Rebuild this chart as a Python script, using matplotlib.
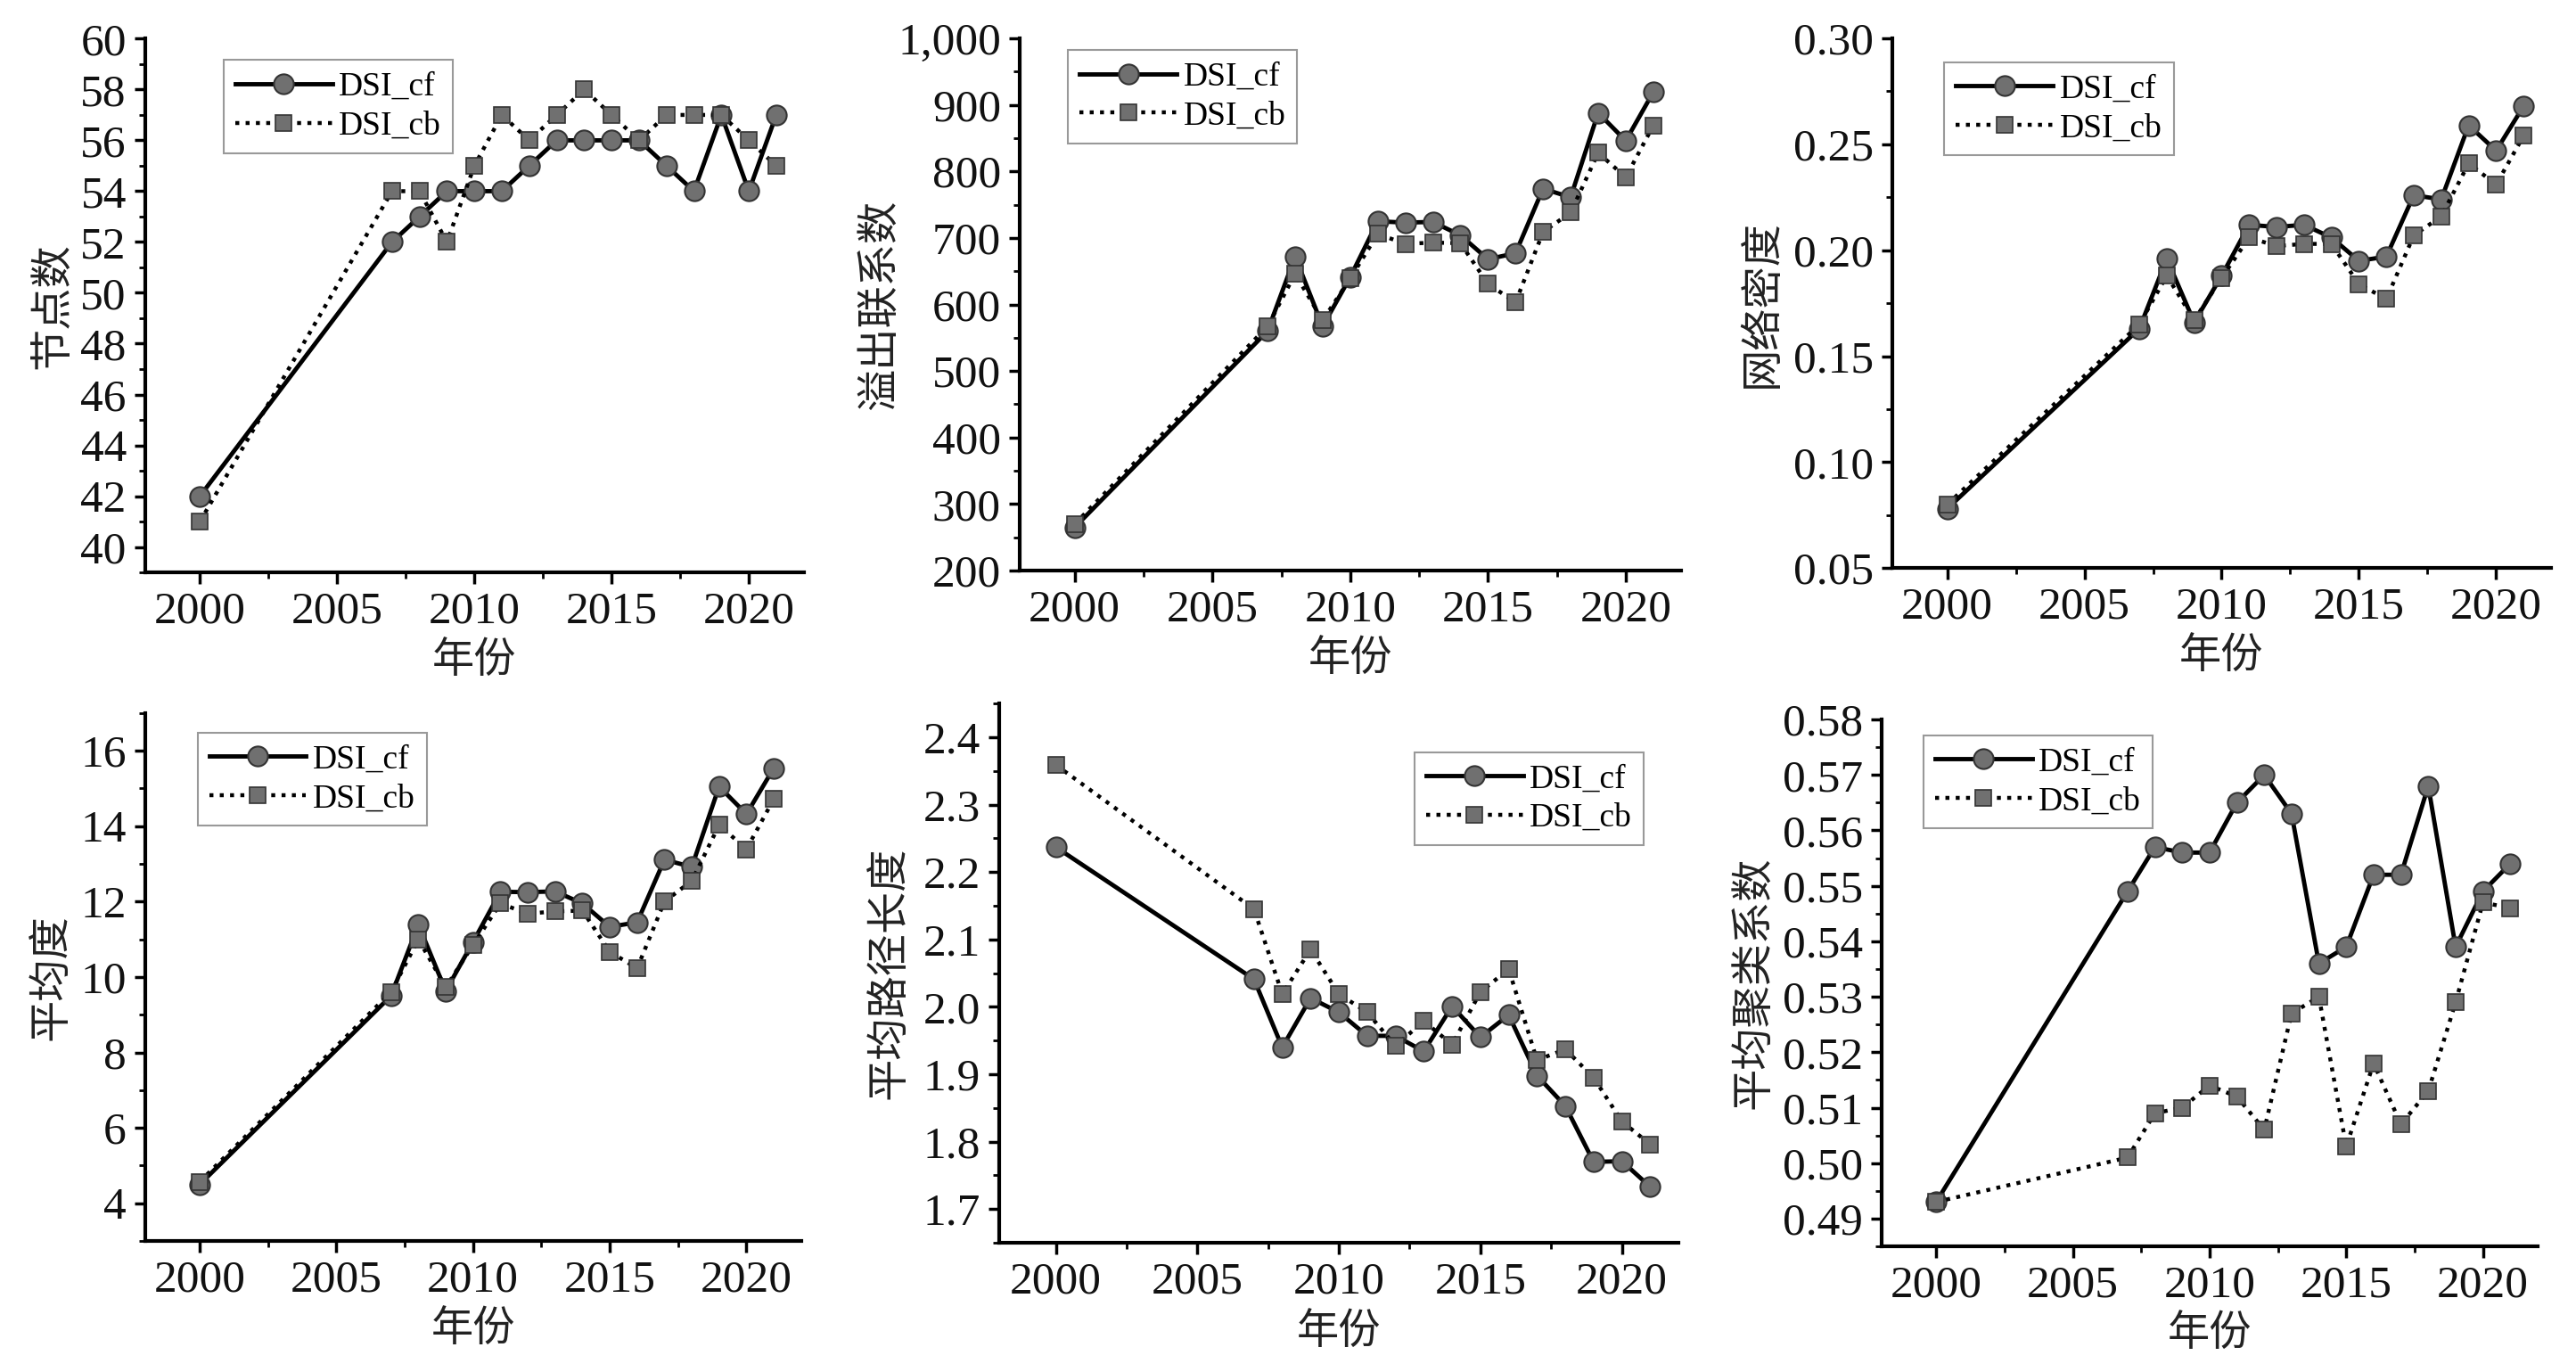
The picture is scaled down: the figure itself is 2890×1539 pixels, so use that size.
import matplotlib
matplotlib.use("Agg")
import matplotlib.pyplot as plt
from matplotlib.ticker import MultipleLocator, FuncFormatter, FormatStrFormatter

years = [2000, 2007, 2008, 2009, 2010, 2011, 2012, 2013, 2014, 2015, 2016, 2017, 2018, 2019, 2020, 2021]

nodes_cf = [42, 52, 53, 54, 54, 54, 55, 56, 56, 56, 56, 55, 54, 57, 54, 57]
nodes_cb = [41, 54, 54, 52, 55, 57, 56, 57, 58, 57, 56, 57, 57, 57, 56, 55]

links_cf = [265, 560, 672, 567, 641, 725, 723, 724, 704, 668, 677, 774, 761, 888, 846, 919]
links_cb = [270, 567, 646, 576, 639, 706, 691, 693, 692, 631, 603, 709, 738, 828, 791, 869]

dens_cf = [0.078, 0.163, 0.196, 0.166, 0.188, 0.212, 0.211, 0.212, 0.206, 0.195, 0.197, 0.226, 0.224, 0.259, 0.247, 0.268]
dens_cb = [0.080, 0.165, 0.188, 0.167, 0.187, 0.206, 0.202, 0.203, 0.203, 0.184, 0.177, 0.207, 0.216, 0.241, 0.231, 0.254]

deg_cf = [4.50, 9.50, 11.39, 9.63, 10.93, 12.26, 12.25, 12.27, 11.95, 11.33, 11.45, 13.11, 12.92, 15.05, 14.32, 15.54]
deg_cb = [4.57, 9.60, 11.00, 9.73, 10.85, 11.95, 11.68, 11.74, 11.76, 10.67, 10.23, 12.00, 12.55, 14.03, 13.39, 14.72]

path_cf = [2.237, 2.041, 1.940, 2.013, 1.992, 1.957, 1.957, 1.934, 2.001, 1.955, 1.988, 1.898, 1.853, 1.770, 1.771, 1.733]
path_cb = [2.359, 2.145, 2.019, 2.085, 2.019, 1.992, 1.942, 1.979, 1.944, 2.022, 2.056, 1.921, 1.937, 1.895, 1.830, 1.796]

clus_cf = [0.493, 0.549, 0.557, 0.556, 0.556, 0.565, 0.570, 0.563, 0.536, 0.539, 0.552, 0.552, 0.568, 0.539, 0.549, 0.554]
clus_cb = [0.493, 0.501, 0.509, 0.510, 0.514, 0.512, 0.506, 0.527, 0.530, 0.503, 0.518, 0.507, 0.513, 0.529, 0.547, 0.546]

ylabels = ["节点数", "溢出联系数", "网络密度", "平均度", "平均路径长度", "平均聚类系数"]
xlabel = "年份"
legend_labels = ["DSI_cf", "DSI_cb"]

serif = ["Liberation Serif", "DejaVu Serif"]
cjk = ["Noto Sans CJK SC", "DejaVu Sans"]
plt.rcParams["font.family"] = ["Liberation Serif", "Noto Sans CJK SC", "DejaVu Sans"]

fig = plt.figure(figsize=(28.9, 15.39), dpi=100)

panels = [
    dict(rect=[0.0563, 0.5828, 0.2557, 0.389], cf=nodes_cf, cb=nodes_cb, ylim=(39, 60),
         major=2, minor=1, fmt=FormatStrFormatter('%d'), lab=-0.108, leg=(0.119, 0.96)),
    dict(rect=[0.3958, 0.5841, 0.2567, 0.388], cf=links_cf, cb=links_cb, ylim=(200, 1000),
         major=100, minor=50, fmt=FuncFormatter(lambda v, p: f"{v:,.0f}"), lab=-0.178, leg=(0.073, 0.978)),
    dict(rect=[0.7346, 0.586, 0.2557, 0.386], cf=dens_cf, cb=dens_cb, ylim=(0.05, 0.30),
         major=0.05, minor=0.025, fmt=FormatStrFormatter('%.2f'), lab=-0.165, leg=(0.079, 0.955)),
    dict(rect=[0.0563, 0.0955, 0.2547, 0.3848], cf=deg_cf, cb=deg_cb, ylim=(3, 17),
         major=2, minor=1, fmt=FormatStrFormatter('%d'), lab=-0.109, leg=(0.08, 0.963)),
    dict(rect=[0.3879, 0.0942, 0.2637, 0.393], cf=path_cf, cb=path_cb, ylim=(1.65, 2.45),
         major=0.1, minor=0.05, fmt=FormatStrFormatter('%.1f'), lab=-0.13, leg=(0.611, 0.91)),
    dict(rect=[0.7304, 0.0916, 0.2547, 0.384], cf=clus_cf, cb=clus_cb, ylim=(0.485, 0.58),
         major=0.01, minor=0.005, fmt=FormatStrFormatter('%.2f'), lab=-0.162, leg=(0.064, 0.97)),
]

for i, p in enumerate(panels):
    ax = fig.add_axes(p["rect"])
    ax.plot(years, p["cf"], color="black", lw=3.5, marker="o", markersize=16,
            markerfacecolor="#707070", markeredgecolor="#333333", markeredgewidth=1.5,
            label=legend_labels[0], zorder=3)
    ax.plot(years, p["cb"], color="black", lw=3.2, ls=(0, (1, 1.6)), marker="s", markersize=12.5,
            markerfacecolor="#707070", markeredgecolor="#333333", markeredgewidth=1.2,
            label=legend_labels[1], zorder=4)
    ax.set_xlim(1998, 2022)
    ax.set_ylim(*p["ylim"])
    ax.xaxis.set_major_locator(MultipleLocator(5))
    ax.xaxis.set_minor_locator(MultipleLocator(2.5))
    ax.yaxis.set_major_locator(MultipleLocator(p["major"]))
    ax.yaxis.set_minor_locator(MultipleLocator(p["minor"]))
    ax.yaxis.set_major_formatter(p["fmt"])
    for s in ["top", "right"]:
        ax.spines[s].set_visible(False)
    for s in ["left", "bottom"]:
        ax.spines[s].set_linewidth(3)
    ax.tick_params(which="major", direction="out", length=9, width=2.5, pad=6, labelsize=37,
                   labelcolor="#111111")
    ax.tick_params(which="minor", direction="out", length=5, width=2)
    ax.set_ylabel(ylabels[i], fontfamily=cjk, fontsize=34, color="#222222")
    ax.yaxis.set_label_coords(p["lab"], 0.5)
    ax.set_xlabel(xlabel, fontfamily=cjk, fontsize=34, color="#222222")
    ax.xaxis.set_label_coords(0.5, -0.125)
    ax.xaxis.label.set_va("top")
    leg = ax.legend(loc="upper left", bbox_to_anchor=p["leg"], borderaxespad=0,
                    prop={"family": serif, "size": 27}, fancybox=False, framealpha=1,
                    edgecolor="#999999", handlelength=2.9, handletextpad=0.2,
                    borderpad=0.35, labelspacing=0.25)
    leg.get_frame().set_linewidth(1.5)

fig.savefig("out.png", dpi=100, facecolor="white")
